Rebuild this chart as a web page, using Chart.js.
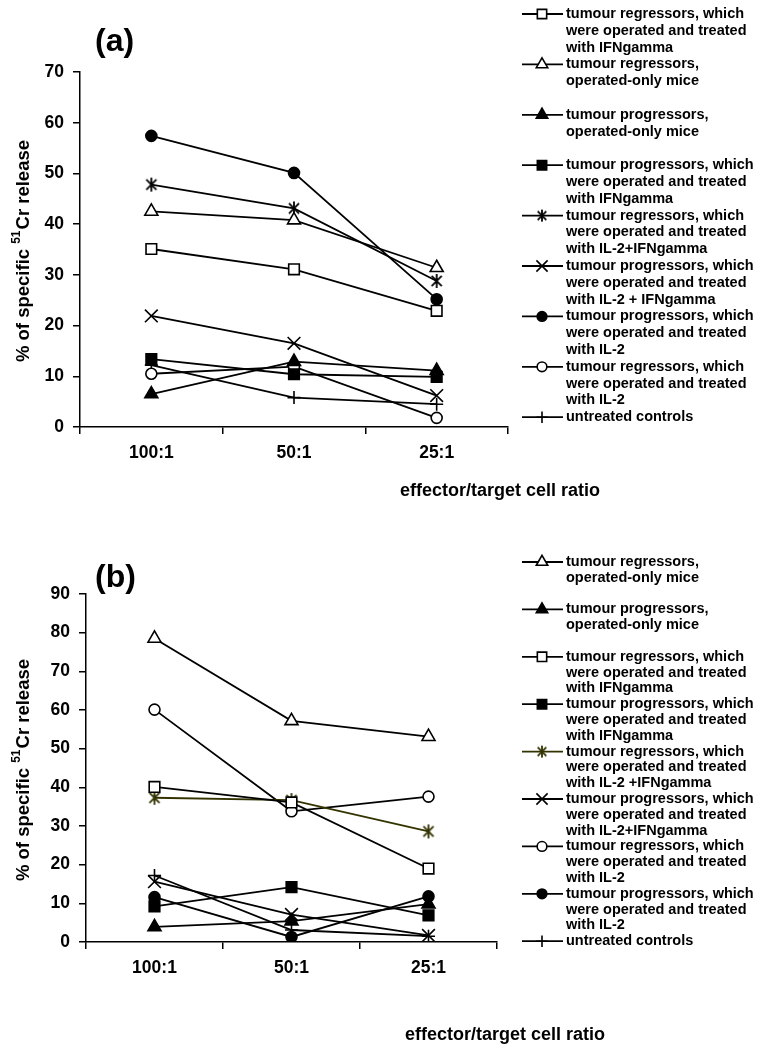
<!DOCTYPE html>
<html><head><meta charset="utf-8">
<script src="https://cdn.jsdelivr.net/npm/chart.js@4.4.1/dist/chart.umd.min.js"></script>
<style>
html,body{margin:0;padding:0;background:#fff;}
#wrap{position:relative;width:757px;height:1052px;overflow:hidden;}
.cv{position:absolute;left:0;}
canvas{display:block;}
</style></head><body>
<div id="wrap">
<div class="cv" style="top:0"><canvas id="ca" width="757" height="520"></canvas></div>
<div class="cv" style="top:520px"><canvas id="cb" width="757" height="532"></canvas></div>
</div>
<script>
// ---------- data ----------
const categories = ['100:1', '50:1', '25:1'];

// panel (a)
const aRegIFN     = [35.1, 31.1, 22.9];
const aRegOp      = [42.5, 40.8, 31.4];
const aProgOp     = [6.5, 12.9, 11.1];
const aProgIFN    = [13.4, 10.4, 9.9];
const aRegIL2IFN  = [47.8, 43.1, 28.8];
const aProgIL2IFN = [21.9, 16.5, 6.2];
const aProgIL2    = [57.4, 50.1, 25.2];
const aRegIL2     = [10.5, 11.9, 1.8];
const aControls   = [12.2, 5.8, 4.5];

// panel (b)
const bRegOp      = [78.5, 57.2, 53.1];
const bProgOp     = [3.9, 5.4, 9.8];
const bRegIFN     = [40.1, 36.1, 19.0];
const bProgIFN    = [9.2, 14.2, 6.9];
const bRegIL2IFN  = [37.3, 36.7, 28.6];
const bProgIL2IFN = [15.6, 7.1, 1.7];
const bRegIL2     = [60.1, 33.8, 37.6];
const bProgIL2    = [11.6, 1.3, 11.8];
const bControls   = [17.2, 3.1, 1.5];

// legend labels (lines)
const lRegIFN     = ['tumour regressors, which', 'were operated and treated', 'with IFNgamma'];
const lRegOp      = ['tumour regressors,', 'operated-only mice'];
const lProgOp     = ['tumour progressors,', 'operated-only mice'];
const lProgIFN    = ['tumour progressors, which', 'were operated and treated', 'with IFNgamma'];
const lRegIL2IFNa = ['tumour regressors, which', 'were operated and treated', 'with IL-2+IFNgamma'];
const lProgIL2IFNa= ['tumour progressors, which', 'were operated and treated', 'with IL-2 + IFNgamma'];
const lRegIL2IFNb = ['tumour regressors, which', 'were operated and treated', 'with IL-2 +IFNgamma'];
const lProgIL2IFNb= ['tumour progressors, which', 'were operated and treated', 'with IL-2+IFNgamma'];
const lProgIL2    = ['tumour progressors, which', 'were operated and treated', 'with IL-2'];
const lRegIL2     = ['tumour regressors, which', 'were operated and treated', 'with IL-2'];
const lControls   = ['untreated controls'];

const yTitleParts = ['% of specific ', '51', 'Cr release'];
const xTitle = 'effector/target cell ratio';

// ---------- styling helpers ----------
const FONT = '"Liberation Sans", Arial, Helvetica, sans-serif';
const OLIVE = '#333300';

function asteriskCanvas(color, h) {
  const s = Math.ceil(2 * h + 4);
  const c = document.createElement('canvas');
  c.width = s; c.height = s;
  const g = c.getContext('2d');
  const m = s / 2, d = h * 0.72;
  g.strokeStyle = color; g.lineWidth = 1.8; g.lineCap = 'butt';
  g.beginPath();
  g.moveTo(m, m - h); g.lineTo(m, m + h);
  g.moveTo(m - d, m - d); g.lineTo(m + d, m + d);
  g.moveTo(m - d, m + d); g.lineTo(m + d, m - d);
  g.stroke();
  return c;
}

const markerStyles = {
  openSquare:   {pointStyle: 'rect', pointRadius: 7.5, bg: '#fff'},
  openTriangle: {pointStyle: 'triangle', pointRadius: 7.5, bg: '#fff'},
  fillTriangle: {pointStyle: 'triangle', pointRadius: 7.5, bg: '#000'},
  fillSquare:   {pointStyle: 'rect', pointRadius: 7.5, bg: '#000'},
  asterisk:     {pointStyle: 'asterisk', pointRadius: 7, bg: '#000'},
  cross:        {pointStyle: 'crossRot', pointRadius: 9, bg: '#000'},
  fillCircle:   {pointStyle: 'circle', pointRadius: 5.5, bg: '#000'},
  openCircle:   {pointStyle: 'circle', pointRadius: 5.5, bg: '#fff'},
  plus:         {pointStyle: 'cross', pointRadius: 6.5, bg: '#000'}
};

function makeDataset(values, marker, color, legendLines) {
  const m = markerStyles[marker];
  const ps = m.pointStyle === 'asterisk' ? asteriskCanvas(color, 7) : m.pointStyle;
  return {
    data: values,
    borderColor: color,
    borderWidth: 1.8,
    pointStyle: ps,
    pointRadius: m.pointRadius,
    pointHoverRadius: m.pointRadius,
    pointBackgroundColor: m.bg,
    pointBorderColor: color,
    pointBorderWidth: 1.6,
    tension: 0,
    fill: false,
    legendLines: legendLines,
    legendMarker: marker
  };
}

// ---------- plugin for titles & legend ----------
const extras = {
  id: 'extras',
  afterDraw(chart, args, o) {
    const ctx = chart.ctx;
    ctx.save();
    ctx.fillStyle = '#000';
    // panel label
    ctx.font = 'bold 32px ' + FONT;
    ctx.textBaseline = 'middle'; ctx.textAlign = 'left';
    ctx.fillText(o.panel, o.panelX, o.panelY);

    // y axis title with superscript
    ctx.save();
    ctx.translate(o.yTitleX, o.yTitleY);
    ctx.rotate(-Math.PI / 2);
    const f1 = 'bold 18.5px ' + FONT, f2 = 'bold 12px ' + FONT;
    ctx.font = f1;
    const w1 = ctx.measureText(yTitleParts[0]).width;
    const w3 = ctx.measureText(yTitleParts[2]).width;
    ctx.font = f2;
    const w2 = ctx.measureText(yTitleParts[1]).width + 1;
    let x = -(w1 + w2 + w3) / 2;
    ctx.textBaseline = 'alphabetic'; ctx.textAlign = 'left';
    ctx.font = f1; ctx.fillText(yTitleParts[0], x, 6.5); x += w1;
    ctx.font = f2; ctx.fillText(yTitleParts[1], x, -2.5); x += w2;
    ctx.font = f1; ctx.fillText(yTitleParts[2], x, 6.5);
    ctx.restore();

    // x axis title
    ctx.font = 'bold 18px ' + FONT;
    ctx.textBaseline = 'middle'; ctx.textAlign = 'left';
    ctx.fillText(xTitle, o.xTitleX, o.xTitleY);

    // legend
    let y = o.legTop;
    chart.data.datasets.forEach((ds) => {
      ctx.strokeStyle = ds.borderColor;
      ctx.lineWidth = 1.8;
      ctx.beginPath();
      ctx.moveTo(o.legX0, y); ctx.lineTo(o.legX1, y);
      ctx.stroke();
      const m = markerStyles[ds.legendMarker];
      if (m.pointStyle === 'asterisk') {
        const img = asteriskCanvas(ds.borderColor, 6);
        ctx.drawImage(img, o.legMX - img.width / 2, y - img.height / 2);
      } else {
        ctx.fillStyle = m.bg;
        ctx.strokeStyle = ds.borderColor;
        ctx.lineWidth = 1.6;
        Chart.helpers.drawPoint(ctx, {pointStyle: m.pointStyle, rotation: 0, borderWidth: 1.6, radius: m.pointRadius * 0.88}, o.legMX, y);
      }
      ctx.fillStyle = '#000';
      ctx.font = 'bold 14.5px ' + FONT;
      ctx.textBaseline = 'middle'; ctx.textAlign = 'left';
      ds.legendLines.forEach((t, k) => ctx.fillText(t, o.legTextX, y + k * o.legStep));
      const slots = ds.legendLines.length === 2 ? 3 : ds.legendLines.length;
      y += slots * o.legStep;
    });
    ctx.restore();
  }
};

function makeOptions(yMax, yWidth, padRight, padTop, padBottom, xHeight, ex) {
  return {
    responsive: false,
    animation: false,
    events: [],
    layout: {padding: {left: 0, top: padTop, right: padRight, bottom: padBottom}},
    plugins: {legend: {display: false}, tooltip: {enabled: false}, extras: ex},
    scales: {
      x: {
        type: 'category',
        offset: true,
        grid: {offset: true, drawOnChartArea: false, drawTicks: true, tickLength: 7, color: '#000', lineWidth: 1.5},
        border: {color: '#000', width: 1.5},
        ticks: {color: '#000', font: {family: FONT, size: 17.5, weight: 'bold'}, padding: 9, maxRotation: 0},
        afterFit: (s) => { s.height = xHeight; }
      },
      y: {
        min: 0, max: yMax,
        grid: {drawOnChartArea: false, drawTicks: true, tickLength: 7, color: '#000', lineWidth: 1.5},
        border: {color: '#000', width: 1.5},
        ticks: {stepSize: 10, color: '#000', font: {family: FONT, size: 17.5, weight: 'bold'}, padding: 9},
        afterFit: (s) => { s.width = yWidth; }
      }
    }
  };
}

// ---------- chart (a) ----------
new Chart(document.getElementById('ca'), {
  type: 'line',
  data: {
    labels: categories,
    datasets: [
      makeDataset(aRegIFN, 'openSquare', '#000', lRegIFN),
      makeDataset(aRegOp, 'openTriangle', '#000', lRegOp),
      makeDataset(aProgOp, 'fillTriangle', '#000', lProgOp),
      makeDataset(aProgIFN, 'fillSquare', '#000', lProgIFN),
      makeDataset(aRegIL2IFN, 'asterisk', '#000', lRegIL2IFNa),
      makeDataset(aProgIL2IFN, 'cross', '#000', lProgIL2IFNa),
      makeDataset(aProgIL2, 'fillCircle', '#000', lProgIL2),
      makeDataset(aRegIL2, 'openCircle', '#000', lRegIL2),
      makeDataset(aControls, 'plus', '#000', lControls)
    ]
  },
  options: makeOptions(70, 80, 249, 72, 520 - 427 - 40, 40, {
    panel: '(a)', panelX: 95, panelY: 42,
    yTitleX: 22, yTitleY: 251,
    xTitleX: 400, xTitleY: 491,
    legTop: 14, legStep: 16.8, legX0: 522, legX1: 563, legMX: 542, legTextX: 566
  }),
  plugins: [extras]
});

// ---------- chart (b) ----------
new Chart(document.getElementById('cb'), {
  type: 'line',
  data: {
    labels: categories,
    datasets: [
      makeDataset(bRegOp, 'openTriangle', '#000', lRegOp),
      makeDataset(bProgOp, 'fillTriangle', '#000', lProgOp),
      makeDataset(bRegIFN, 'openSquare', '#000', lRegIFN),
      makeDataset(bProgIFN, 'fillSquare', '#000', lProgIFN),
      makeDataset(bRegIL2IFN, 'asterisk', OLIVE, lRegIL2IFNb),
      makeDataset(bProgIL2IFN, 'cross', '#000', lProgIL2IFNb),
      makeDataset(bRegIL2, 'openCircle', '#000', lRegIL2),
      makeDataset(bProgIL2, 'fillCircle', '#000', lProgIL2),
      makeDataset(bControls, 'plus', '#000', lControls)
    ]
  },
  options: makeOptions(90, 86, 260, 74, 532 - 422 - 40, 40, {
    panel: '(b)', panelX: 95, panelY: 58,
    yTitleX: 22, yTitleY: 250,
    xTitleX: 405, xTitleY: 515,
    legTop: 42, legStep: 15.8, legX0: 522, legX1: 563, legMX: 542, legTextX: 566
  }),
  plugins: [extras]
});
</script>
</body></html>
